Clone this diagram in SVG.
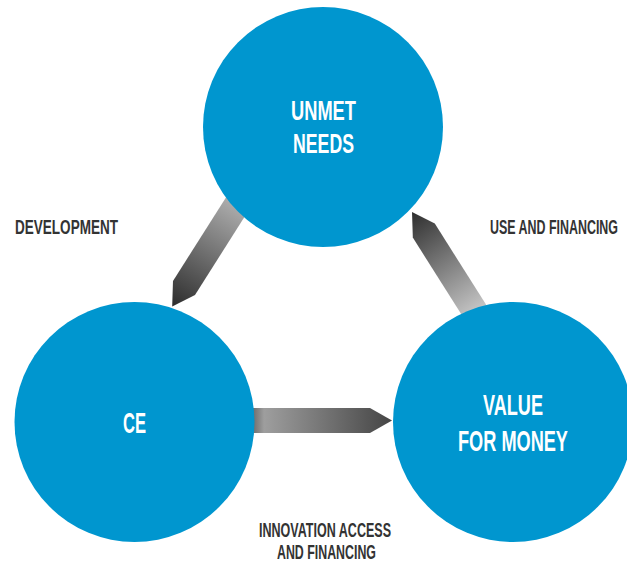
<svg xmlns="http://www.w3.org/2000/svg" width="627" height="565" viewBox="0 0 627 565">
<style>
.node{fill:#0096cf}
.nt{font-family:"Liberation Sans",Arial,sans-serif;font-weight:bold;fill:#ffffff}
.lbl{font-family:"Liberation Sans",Arial,sans-serif;font-weight:bold;fill:#333333;font-size:19.5px}
</style>
<defs>
<linearGradient id="g1" gradientUnits="userSpaceOnUse" x1="172" y1="307" x2="242" y2="195">
<stop offset="0" stop-color="#2c2c2c"/><stop offset="1" stop-color="#b8b8b8"/>
</linearGradient>
<linearGradient id="g2" gradientUnits="userSpaceOnUse" x1="412" y1="212" x2="480" y2="312">
<stop offset="0" stop-color="#2e2e2e"/><stop offset="1" stop-color="#c8c8c8"/>
</linearGradient>
<linearGradient id="g3" gradientUnits="userSpaceOnUse" x1="253" y1="0" x2="392" y2="0">
<stop offset="0" stop-color="#6e6e6e"/><stop offset="0.08" stop-color="#9e9e9e"/><stop offset="1" stop-color="#454545"/>
</linearGradient>
</defs>
<rect width="627" height="565" fill="#ffffff"/>
<g id="connectors">
<polygon points="172.2,306.6 195,295 259.2,193.7 237.2,179.7 173,281" fill="url(#g1)"/>
<polygon points="412,212 434.8,223.6 496.3,320.8 474.3,334.8 412.8,237.6" fill="url(#g2)"/>
<polygon points="250,408 370,408 392,420.5 370,433 250,433" fill="url(#g3)"/>
</g>
<g id="node-unmet">
<circle class="node" cx="323" cy="127" r="120"/>
<text class="nt" font-size="28" transform="translate(291,120) scale(0.653,1)" textLength="99.5" lengthAdjust="spacingAndGlyphs">UNMET</text>
<text class="nt" font-size="28" transform="translate(293,153) scale(0.632,1)" textLength="96.5" lengthAdjust="spacingAndGlyphs">NEEDS</text>
</g>
<g id="node-ce">
<circle class="node" cx="134.5" cy="422" r="120"/>
<text class="nt" font-size="30" transform="translate(123,433) scale(0.552,1)" textLength="41.7" lengthAdjust="spacingAndGlyphs">CE</text>
</g>
<g id="node-vfm">
<circle class="node" cx="513" cy="422" r="120"/>
<text class="nt" font-size="30" transform="translate(483,415) scale(0.59,1)" textLength="101.7" lengthAdjust="spacingAndGlyphs">VALUE</text>
<text class="nt" font-size="29" transform="translate(458,451) scale(0.626,1)" textLength="175.7" lengthAdjust="spacingAndGlyphs">FOR MONEY</text>
</g>
<g id="labels">
<text class="lbl" transform="translate(15,234) scale(0.694,1)" textLength="148.4" lengthAdjust="spacingAndGlyphs">DEVELOPMENT</text>
<text class="lbl" transform="translate(490,234) scale(0.635,1)" textLength="201.6" lengthAdjust="spacingAndGlyphs">USE AND FINANCING</text>
<text class="lbl" transform="translate(259,537) scale(0.631,1)" textLength="209.2" lengthAdjust="spacingAndGlyphs">INNOVATION ACCESS</text>
<text class="lbl" transform="translate(277,559) scale(0.635,1)" textLength="155.9" lengthAdjust="spacingAndGlyphs">AND FINANCING</text>
</g>
</svg>
